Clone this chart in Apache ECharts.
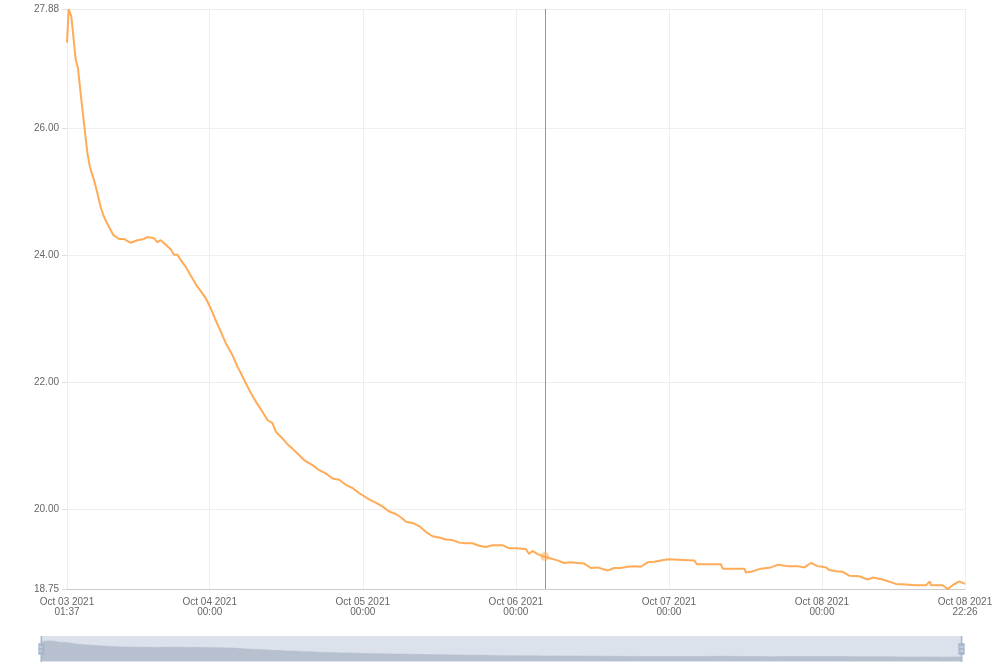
<!DOCTYPE html>
<html>
<head>
<meta charset="utf-8">
<script src="https://cdn.jsdelivr.net/npm/echarts@6/dist/echarts.min.js"></script>
<style>
html,body{margin:0;padding:0;background:#fff;}
#chart{width:1000px;height:669px;}
</style>
</head>
<body>
<div id="chart"></div>
<script>
var times = [
'2021-10-03 01:37','2021-10-03 01:53','2021-10-03 02:18','2021-10-03 02:59','2021-10-03 03:20','2021-10-03 03:52','2021-10-03 04:24','2021-10-03 04:49','2021-10-03 05:13','2021-10-03 05:51',
'2021-10-03 06:23','2021-10-03 06:54','2021-10-03 07:25','2021-10-03 07:57','2021-10-03 08:28','2021-10-03 08:54','2021-10-03 09:46','2021-10-03 10:33','2021-10-03 11:36','2021-10-03 12:40',
'2021-10-03 13:42','2021-10-03 14:14','2021-10-03 15:16','2021-10-03 15:48','2021-10-03 16:19','2021-10-03 17:06','2021-10-03 17:53','2021-10-03 18:24','2021-10-03 18:56','2021-10-03 19:27',
'2021-10-03 20:14','2021-10-03 21:48','2021-10-03 23:22',
'2021-10-04 00:09','2021-10-04 00:56','2021-10-04 01:44','2021-10-04 02:31','2021-10-04 03:34','2021-10-04 04:21','2021-10-04 04:52','2021-10-04 05:39','2021-10-04 06:26','2021-10-04 07:13',
'2021-10-04 08:16','2021-10-04 09:03','2021-10-04 09:50','2021-10-04 10:21','2021-10-04 11:24','2021-10-04 12:11','2021-10-04 12:58','2021-10-04 14:00','2021-10-04 14:48','2021-10-04 16:07',
'2021-10-04 17:09','2021-10-04 18:12','2021-10-04 19:15','2021-10-04 20:17','2021-10-04 21:20','2021-10-04 22:23','2021-10-04 23:25',
'2021-10-05 00:12','2021-10-05 00:59','2021-10-05 02:02','2021-10-05 03:05','2021-10-05 04:08','2021-10-05 05:11','2021-10-05 06:14','2021-10-05 06:45','2021-10-05 07:48','2021-10-05 08:50',
'2021-10-05 09:53','2021-10-05 10:56','2021-10-05 11:58','2021-10-05 13:01','2021-10-05 14:04','2021-10-05 15:06','2021-10-05 16:09','2021-10-05 17:12','2021-10-05 18:15','2021-10-05 19:18',
'2021-10-05 20:21','2021-10-05 21:55','2021-10-05 22:57',
'2021-10-06 00:00','2021-10-06 01:34','2021-10-06 02:05','2021-10-06 02:37','2021-10-06 03:24','2021-10-06 04:26','2021-10-06 05:29','2021-10-06 06:32','2021-10-06 07:35','2021-10-06 08:38',
'2021-10-06 09:40','2021-10-06 10:43','2021-10-06 11:46','2021-10-06 12:49','2021-10-06 14:23','2021-10-06 15:25','2021-10-06 16:28','2021-10-06 17:31','2021-10-06 18:33','2021-10-06 19:36',
'2021-10-06 20:40','2021-10-06 21:42','2021-10-06 22:45','2021-10-06 23:50',
'2021-10-07 00:00','2021-10-07 03:58','2021-10-07 04:24','2021-10-07 08:09','2021-10-07 08:28','2021-10-07 11:49','2021-10-07 12:05','2021-10-07 12:52','2021-10-07 14:26','2021-10-07 16:00',
'2021-10-07 17:03','2021-10-07 18:37','2021-10-07 20:11','2021-10-07 21:14','2021-10-07 22:16','2021-10-07 23:19',
'2021-10-08 00:07','2021-10-08 00:38','2021-10-08 01:09','2021-10-08 02:12','2021-10-08 03:15','2021-10-08 04:17','2021-10-08 05:51','2021-10-08 07:10','2021-10-08 07:57','2021-10-08 09:31',
'2021-10-08 11:36','2021-10-08 13:11','2021-10-08 14:45','2021-10-08 16:19','2021-10-08 16:56','2021-10-08 17:05','2021-10-08 18:56','2021-10-08 19:43','2021-10-08 20:30','2021-10-08 21:32',
'2021-10-08 22:26'
];
var temps = [
27.35,27.88,27.76,27.08,26.95,26.45,25.98,25.61,25.39,25.19,
24.98,24.76,24.61,24.50,24.40,24.32,24.26,24.26,24.20,24.24,
24.26,24.29,24.27,24.21,24.24,24.17,24.10,24.01,24.01,23.93,
23.82,23.55,23.33,
23.17,22.98,22.80,22.62,22.43,22.25,22.15,21.99,21.84,21.70,
21.54,21.41,21.36,21.23,21.12,21.03,20.96,20.86,20.78,20.70,
20.62,20.57,20.49,20.47,20.39,20.34,20.26,
20.21,20.16,20.11,20.05,19.97,19.93,19.86,19.81,19.79,19.74,
19.65,19.58,19.56,19.53,19.52,19.48,19.47,19.47,19.43,19.41,
19.44,19.44,19.39,
19.39,19.38,19.30,19.35,19.30,19.26,19.23,19.20,19.16,19.17,
19.16,19.15,19.08,19.09,19.04,19.08,19.08,19.10,19.11,19.10,
19.17,19.18,19.20,19.22,
19.20,19.20,19.14,19.14,19.07,19.07,19.01,19.02,19.07,19.09,
19.13,19.11,19.11,19.09,19.16,19.11,
19.10,19.09,19.05,19.03,19.02,18.96,18.95,18.90,18.93,18.90,
18.83,18.82,18.81,18.81,18.87,18.81,18.81,18.75,18.81,18.87,
18.83
];
var xTickTimes = ['2021-10-03 01:37','2021-10-04 00:00','2021-10-05 00:00','2021-10-06 00:00','2021-10-07 00:00','2021-10-08 00:00','2021-10-08 22:26'];
var hoverTime = '2021-10-06 04:33';
var hoverValue = 19.26;
var months = ['Jan','Feb','Mar','Apr','May','Jun','Jul','Aug','Sep','Oct','Nov','Dec'];

function pad(n){return (n<10?'0':'')+n;}
function parseT(s){
  var p = s.split(/[- :]/);
  return new Date(+p[0], +p[1]-1, +p[2], +p[3], +p[4]).getTime();
}
var seriesData = times.map(function(t,i){return [parseT(t), temps[i]];});
var xTicks = xTickTimes.map(parseT);

var chart = echarts.init(document.getElementById('chart'), null, {renderer:'canvas'});
chart.setOption({
  animation:false,
  grid:{left:67,right:35,top:9,bottom:80,containLabel:false},
  xAxis:{
    type:'value',
    min:xTicks[0],
    max:xTicks[xTicks.length-1],
    scale:true,
    axisLine:{show:true,lineStyle:{color:'#cccccc'}},
    axisTick:{show:false,customValues:xTicks},
    splitLine:{show:true,lineStyle:{color:'#eeeeee'}},
    axisLabel:{
      customValues:xTicks,
      color:'#666',fontSize:10,fontFamily:'Liberation Sans, Arial, sans-serif',lineHeight:10,
      hideOverlap:false,
      formatter:function(v){
        var d = new Date(v);
        return months[d.getMonth()]+' '+pad(d.getDate())+' '+d.getFullYear()+'\n'+pad(d.getHours())+':'+pad(d.getMinutes());
      }
    }
  },
  yAxis:{
    type:'value',
    min:'dataMin',
    max:'dataMax',
    axisLine:{show:false},
    axisTick:{show:true,length:5,lineStyle:{color:'#dddddd'}},
    splitLine:{show:true,lineStyle:{color:'#eeeeee'}},
    axisLabel:{
      color:'#666',fontSize:10,fontFamily:'Liberation Sans, Arial, sans-serif',margin:8,
      formatter:function(v){return v.toFixed(2);}
    }
  },
  dataZoom:[{
    type:'slider',
    xAxisIndex:0,
    filterMode:'none',
    left:38,right:40,bottom:7,height:26,
    start:0,end:100,
    showDetail:false,
    brushSelect:false,
    moveHandleSize:0,
    backgroundColor:'rgba(0,0,0,0)',
    borderColor:'#dde3ec',
    fillerColor:'rgba(167,183,204,0.4)',
    handleIcon:'path://M8.2,13.6V3.9H6.3v9.7H3.1v14.9h3.3v9.7h1.8v-9.7h3.3V13.6H8.2z M9.7,24.4H4.8v-1.4h4.9V24.4z M9.7,19.1H4.8v-1.4h4.9V19.1z',
    handleSize:'100%',
    handleStyle:{color:'#a7b7cc',borderColor:'#a7b7cc',borderWidth:0},
    dataBackground:{lineStyle:{color:'#b8bec9',width:0.5,opacity:1},areaStyle:{color:'#c2c7d0',opacity:1}},
    selectedDataBackground:{lineStyle:{color:'#b8bec9',width:0.5,opacity:1},areaStyle:{color:'#c2c7d0',opacity:1}},
    emphasis:{handleStyle:{color:'#a7b7cc'}}
  }],
  series:[{
    type:'line',
    data:seriesData,
    showSymbol:false,
    symbol:'none',
    lineStyle:{color:'#ffab57',width:2},
    itemStyle:{color:'#ffab57'},
    markLine:{
      silent:true,
      symbol:['none','none'],
      label:{show:false},
      lineStyle:{color:'#999999',type:'solid',width:1},
      data:[{xAxis:parseT(hoverTime)}]
    },
    markPoint:{
      silent:true,
      symbol:'circle',
      symbolSize:9,
      label:{show:false},
      itemStyle:{color:'rgba(255,171,87,0.55)'},
      data:[{coord:[parseT(hoverTime), hoverValue]}]
    }
  }]
});
</script>
</body>
</html>
